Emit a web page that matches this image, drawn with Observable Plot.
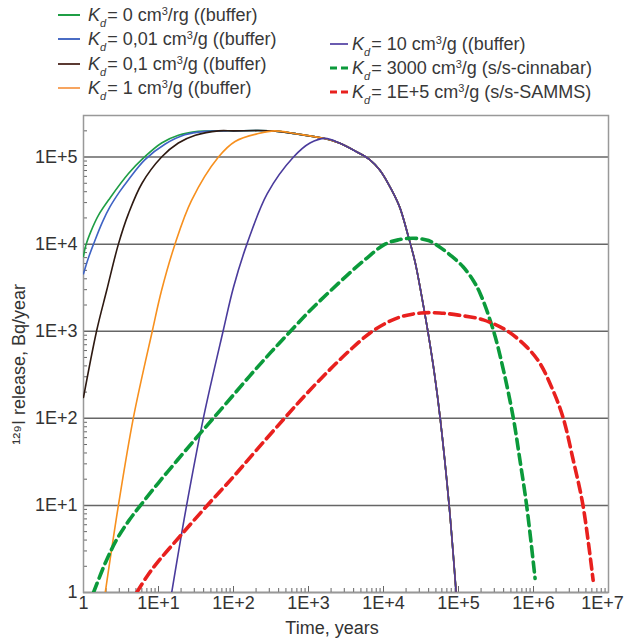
<!DOCTYPE html>
<html>
<head>
<meta charset="utf-8">
<script src="https://cdn.jsdelivr.net/npm/d3@7"></script>
<script src="https://cdn.jsdelivr.net/npm/@observablehq/plot@0.6"></script>
<style>
  body { margin: 0; background: #fff; }
  #wrap { width: 627px; height: 639px; position: relative; overflow: hidden; }
  #legend { position: relative; width: 627px; height: 108px; font-family: "Liberation Sans", Arial, sans-serif; font-size: 18px; color: #383838; }
  .item { position: absolute; white-space: nowrap; display: flex; align-items: center; height: 24px; }
  .sub { font-size: 11px; position: relative; top: 6px; font-style: italic; margin-right: 1px; }
  .sup { font-size: 11px; position: relative; top: -6px; }
</style>
</head>
<body>
<div id="wrap">
  <div id="legend"></div>
  <div id="chart"></div>
</div>
<script>
// ---- Data (time in years, release in Bq/year) ----
const xTicks = [1, 1e1, 1e2, 1e3, 1e4, 1e5, 1e6, 1e7];
const xTickLabels = ["1", "1E+1", "1E+2", "1E+3", "1E+4", "1E+5", "1E+6", "1E+7"];
const yTicks = [1, 1e1, 1e2, 1e3, 1e4, 1e5];
const yTickLabels = ["1", "1E+1", "1E+2", "1E+3", "1E+4", "1E+5"];

// shared plateau + decline of the buffer cases
const plateauT = [100, 316];
const plateauR = [2.0e5, 2.0e5];
const tailT = [708, 1585, 2630, 4365, 6600, 8900, 1.15e4, 1.62e4, 2.14e4, 2.63e4, 3.16e4, 3.9e4, 4.8e4, 5.7e4, 7.5e4, 9.3e4];
const tailR = [1.84e5, 1.64e5, 1.44e5, 1.15e5, 9.3e4, 7.1e4, 5.0e4, 2.75e4, 1.23e4, 6.3e3, 2.8e3, 1.0e3, 316, 100, 10, 1];

const kd0T = [1, 1.07, 1.26, 1.58, 2.26, 3.98, 6.31, 11, 18.4, 33.9, 63];
const kd0R = [7.24e3, 9.55e3, 1.41e4, 2.14e4, 3.39e4, 6.46e4, 9.77e4, 1.45e5, 1.78e5, 1.97e5, 2.0e5];

const kd001T = [1, 1.15, 1.36, 1.78, 2.26, 3.02, 3.98, 6.61, 12.3, 22.4, 41.7, 79];
const kd001R = [4.57e3, 6.76e3, 1.0e4, 1.78e4, 2.69e4, 3.98e4, 5.5e4, 9.33e4, 1.41e5, 1.8e5, 1.97e5, 2.0e5];

const kd01T = [1, 1.5, 2.04, 2.92, 3.98, 6.03, 11, 18.4, 31, 63];
const kd01R = [174, 1.02e3, 2.95e3, 1.0e4, 2.24e4, 5.0e4, 1.0e5, 1.45e5, 1.78e5, 2.0e5];

const kd1T = [1.95, 2.92, 4.63, 8.3, 11, 16.6, 27.5, 63, 105, 214, 355];
const kd1R = [1, 10, 102, 1.02e3, 2.95e3, 1.0e4, 3.16e4, 1.0e5, 1.51e5, 1.86e5, 2.0e5];

const kd10T = [15, 23.7, 39.8, 73, 100, 151, 282, 631, 1047, 1660];
const kd10R = [1, 10, 102, 1.02e3, 3.2e3, 1.0e4, 3.8e4, 1.0e5, 1.45e5, 1.64e5];

const kd3000T = [1.36, 2.0, 2.82, 3.98, 5.75, 10, 17.8, 31.6, 53.7, 100, 178, 316, 575, 1000, 1780, 3160, 5620, 1.05e4, 1.58e4, 2.51e4, 3.98e4, 5.6e4, 7.9e4, 1.15e5, 1.58e5, 1.95e5, 2.92e5, 3.98e5, 5.37e5, 6.6e5, 8.1e5, 1.05e6];
const kd3000R = [1, 2.29, 4.17, 6.6, 10, 18.2, 33, 59, 100, 186, 331, 575, 1000, 1660, 2690, 4270, 6610, 1.0e4, 1.12e4, 1.17e4, 1.1e4, 9.3e3, 7.4e3, 5.5e3, 3.8e3, 2.7e3, 1.02e3, 355, 102, 33, 10, 1.45];

const kd1e5T = [5.13, 7.08, 10, 20, 43.7, 100, 200, 468, 891, 1780, 3550, 6610, 1.12e4, 1.78e4, 3.16e4, 5.6e4, 1.0e5, 2.14e5, 4.37e5, 8.1e5, 1.22e6, 1.82e6, 2.48e6, 3.39e6, 4.57e6, 6.24e6];
const kd1e5R = [1, 1.55, 2.29, 4.57, 9.8, 21.4, 42.7, 98, 182, 339, 603, 955, 1260, 1480, 1620, 1620, 1530, 1350, 1020, 661, 427, 209, 102, 33, 10, 1.38];

const seriesNames = ["Kd = 0", "Kd = 0,01", "Kd = 0,1", "Kd = 1", "Kd = 10", "Kd = 3000", "Kd = 1E+5"];
const legendTexts = ["0 cm³/rg ((buffer)", "0,01 cm³/g ((buffer)", "0,1 cm³/g ((buffer)", "1 cm³/g ((buffer)",
                     "10 cm³/g ((buffer)", "3000 cm³/g (s/s-cinnabar)", "1E+5 cm³/g (s/s-SAMMS)"];
const lineColors = ["#1f9e45", "#3f63c4", "#2e1a12", "#f7901e", "#4a3b9c", "#0b9a3b", "#e8201e"];
const legendColors = ["#1f9e45", "#4a6cc4", "#5b3a33", "#f7a560", "#6a5bb0", "#0b9a3b", "#e8201e"];
const dashed = [false, false, false, false, false, true, true];

// ---- Build tables ----
function rows(name, ts, rs) { return ts.map((t, i) => ({series: name, t, r: rs[i]})); }
const tables = [
  rows(seriesNames[0], kd0T.concat(plateauT, tailT), kd0R.concat(plateauR, tailR)),
  rows(seriesNames[1], kd001T.concat(plateauT, tailT), kd001R.concat(plateauR, tailR)),
  rows(seriesNames[2], kd01T.concat(plateauT, tailT), kd01R.concat(plateauR, tailR)),
  rows(seriesNames[3], kd1T.concat(tailT), kd1R.concat(tailR)),
  rows(seriesNames[4], kd10T.concat(tailT.slice(2)), kd10R.concat(tailR.slice(2))),
  rows(seriesNames[5], kd3000T, kd3000R),
  rows(seriesNames[6], kd1e5T, kd1e5R)
];

// minor tick positions (2..9 per decade)
const xMinor = [];
for (let d = 0; d < 7; d++) for (let k = 2; k <= 9; k++) xMinor.push(k * Math.pow(10, d));
const yMinor = [];
for (let d = 0; d < 6; d++) for (let k = 2; k <= 9; k++) { const v = k * Math.pow(10, d); if (v <= 3e5) yMinor.push(v); }

// ---- Legend ----
const legendPos = [
  {x: 58, y: 15, w: 22, gap: 8}, {x: 58, y: 39, w: 22, gap: 8}, {x: 58, y: 64, w: 22, gap: 8}, {x: 58, y: 88, w: 22, gap: 8},
  {x: 330, y: 44, w: 18, gap: 4}, {x: 330, y: 68, w: 18, gap: 4}, {x: 330, y: 92, w: 18, gap: 4}
];
const legend = document.getElementById("legend");
legendTexts.forEach((txt, i) => {
  const p = legendPos[i];
  const div = document.createElement("div");
  div.className = "item";
  div.style.left = p.x + "px";
  div.style.top = (p.y - 12) + "px";
  const dash = dashed[i] ? 'stroke-dasharray="7,4" stroke-width="3"' : 'stroke-width="2"';
  const txtHtml = txt.replace("³", '<span class="sup">3</span>');
  div.innerHTML = `<svg width="${p.w}" height="10" style="margin-right:${p.gap}px"><line x1="0" x2="${p.w}" y1="5" y2="5" stroke="${legendColors[i]}" ${dash}/></svg>` +
    `<span><i>K</i><span class="sub">d</span>= ${txtHtml}</span>`;
  legend.appendChild(div);
});

// ---- Chart ----
const W = 627, H = 531, mT = 7, mB = 47, mL = 83, mR = 19;
const frameH = H - mT - mB, frameW = W - mL - mR;
const xLab = new Map(xTicks.map((v, i) => [v, xTickLabels[i]]));
const yLab = new Map(yTicks.map((v, i) => [v, yTickLabels[i]]));

const lineMarks = tables.map((tb, i) => Plot.line(tb, {
  x: "t", y: "r", stroke: lineColors[i], curve: "catmull-rom", clip: true,
  strokeWidth: dashed[i] ? 3.6 : 1.6,
  strokeDasharray: dashed[i] ? "10,5.5" : null
}));

const chart = Plot.plot({
  width: W, height: H, marginTop: mT, marginBottom: mB, marginLeft: mL, marginRight: mR,
  x: {type: "log", domain: [1, 1e7]},
  y: {type: "log", domain: [1, 3e5]},
  style: {fontFamily: "'Liberation Sans', Arial, sans-serif", fontSize: "18px", color: "#333", background: "#fff", overflow: "visible"},
  marks: [
    Plot.ruleY(yTicks, {stroke: "#666", strokeWidth: 1.5}),
    Plot.tickX(xMinor, {x: d => d, insetTop: frameH - 4, stroke: "#666"}),
    Plot.tickX(xTicks, {x: d => d, insetTop: frameH - 6, stroke: "#666"}),
    Plot.tickY(yMinor, {y: d => d, insetRight: frameW - 4, stroke: "#666"}),
    Plot.frame({stroke: "#999", strokeWidth: 1.5}),
    Plot.axisX({ticks: xTicks.slice(0, 7), tickFormat: d => xLab.get(d), tickSize: 0, tickPadding: 4, label: null, fill: "#333", fontSize: 18}),
    Plot.axisX({ticks: xTicks.slice(7), tickFormat: d => xLab.get(d), tickSize: 0, tickPadding: 4, label: null, fill: "#333", fontSize: 18, dx: -6}),
    Plot.axisY({ticks: yTicks, tickFormat: d => yLab.get(d), tickSize: 0, tickPadding: 6, label: null, fill: "#333", fontSize: 18}),
    ...lineMarks,
    Plot.text(["Time, years"], {text: d => d, frameAnchor: "bottom", dy: 41, dx: -14, fontSize: 18, fill: "#333"}),
    Plot.text(["¹²⁹I release, Bq/year"], {text: d => d, x: () => 1, y: () => 417, dx: -64, rotate: -90, fontSize: 18, fill: "#333"})
  ]
});
document.getElementById("chart").appendChild(chart);
</script>
</body>
</html>
